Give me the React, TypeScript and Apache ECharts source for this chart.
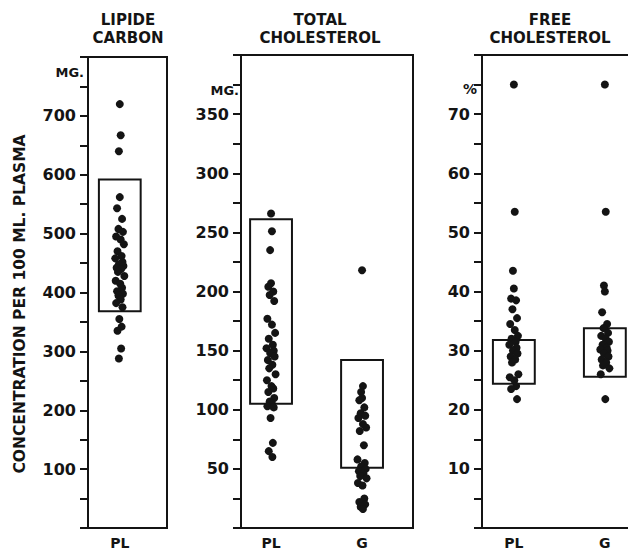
import React, { useEffect, useRef } from "react";
import * as echarts from "echarts";

// ---- data ----
const groupNames = ["PL", "G"];

const lipidePL = [720, 667, 640, 562, 543, 525, 508, 503, 495, 490, 482, 470, 462, 458, 452, 448, 445, 442, 440, 435, 428, 420, 415, 408, 402, 398, 395, 388, 382, 375, 355, 342, 335, 305, 288];
const totalPL = [266, 251, 235, 207, 204, 200, 197, 192, 177, 172, 165, 160, 155, 152, 150, 148, 145, 142, 138, 135, 130, 125, 120, 118, 115, 110, 107, 105, 103, 102, 93, 72, 65, 60];
const totalG = [218, 120, 115, 110, 108, 102, 97, 95, 93, 88, 85, 82, 70, 58, 55, 52, 50, 48, 46, 44, 42, 38, 36, 25, 22, 20, 18, 16];
const freePL = [75, 53.5, 43.5, 40.5, 38.8, 38.5, 37, 35.5, 34.5, 33.5, 32.5, 32, 31.5, 31, 30.5, 30, 29.5, 29, 28.5, 28, 26, 25.5, 25, 24, 23.5, 21.8];
const freeG = [75, 53.5, 41, 40, 36.5, 34.5, 33.8, 33, 32.5, 32, 31.5, 31, 30.5, 30.2, 30, 29.5, 29, 28.5, 28, 27.5, 27, 26, 21.8];

// horizontal scatter offsets of the dots (beeswarm spread)
const jitter = [0, 0.01, -0.01, 0, -0.03, 0.025, -0.015, 0.035, -0.04, 0.01, 0.045, -0.025, 0.02, -0.05, 0.03, -0.01, 0.04, -0.035, 0.015, -0.02, 0.05, -0.045, 0.005, 0.025, -0.03, 0.035, -0.015, 0.01, -0.04, 0.03, -0.005, 0.02, -0.025, 0.015, -0.01];

// ranges drawn as boxes: [group position, low, high]
const lipideBoxes = [[1, 368, 592]];
const totalBoxes = [[1, 105, 261], [2, 51, 142]];
const freeBoxes = [[1, 24.4, 31.8], [2, 25.6, 33.8]];

const titles = [["LIPIDE", "CARBON"], ["TOTAL", "CHOLESTEROL"], ["FREE", "CHOLESTEROL"]];
const unitLabels = ["MG.", "MG.", "%"];
const yAxisTitle = "CONCENTRATION PER 100 ML. PLASMA";

const INK = "#141414";
const FONT = "DejaVu Sans";

function points(values: number[], pos: number) {
  return values.map((v, i) => [pos + jitter[i % jitter.length], v]);
}

export default function App() {
  const ref = useRef<HTMLDivElement>(null);
  useEffect(() => {
    document.body.style.margin = "0";
    document.body.style.overflow = "hidden";
    if (!ref.current) return;
    const chart = echarts.init(ref.current, null, { renderer: "svg" });
    const HW = 0.23;
    const boxSeries = (idx: number, data: number[][]) => ({
      type: "custom",
      xAxisIndex: idx,
      yAxisIndex: idx,
      z: 2,
      silent: true,
      data,
      renderItem: (_p: any, api: any) => {
        const c = api.value(0);
        const lo = api.value(1);
        const hi = api.value(2);
        const a = api.coord([c - HW, hi]);
        const b = api.coord([c + HW, lo]);
        return {
          type: "rect",
          shape: { x: a[0], y: a[1], width: b[0] - a[0], height: b[1] - a[1] },
          style: { fill: "none", stroke: INK, lineWidth: 2 },
        };
      },
    });
    const dotSeries = (idx: number, data: number[][]) => ({
      type: "scatter",
      xAxisIndex: idx,
      yAxisIndex: idx,
      z: 3,
      symbolSize: 8,
      itemStyle: { color: INK, opacity: 1 },
      data,
    });
    const yAxis = (idx: number, max: number, interval: number, step: number) => ({
      type: "value",
      gridIndex: idx,
      min: 0,
      max,
      interval,
      axisLine: { show: true, lineStyle: { color: INK, width: 2 } },
      axisTick: { show: true, inside: false, length: 8, lineStyle: { color: INK, width: 2 } },
      splitLine: { show: false },
      axisLabel: {
        margin: 12,
        color: INK,
        fontFamily: FONT,
        fontWeight: "bold",
        fontSize: 16,
        formatter: (v: number) => (v > 0 && v < max && Math.abs(v % step) < 1e-6 ? String(v) : ""),
      },
    });
    const xAxis = (idx: number, min: number, max: number, vals: number[]) => ({
      type: "value",
      gridIndex: idx,
      min,
      max,
      axisLine: { show: false },
      axisTick: { show: false },
      splitLine: { show: false },
      axisLabel: {
        customValues: vals,
        margin: 8,
        color: INK,
        fontFamily: FONT,
        fontWeight: "bold",
        fontSize: 14,
        formatter: (v: number) => groupNames[Math.round(v) - 1] || "",
      },
    });
    const gridStyle = { show: true, borderColor: INK, borderWidth: 2, backgroundColor: "transparent" };
    const titleText = (cx: number, lines: string[]) =>
      lines.map((t, i) => ({
        type: "text",
        x: cx,
        y: 20 + i * 18,
        style: { text: t, fill: INK, font: `bold 15px "${FONT}"`, align: "center", verticalAlign: "middle" },
      }));
    chart.setOption({
      animation: false,
      backgroundColor: "#fff",
      grid: [
        { left: 88, top: 57, width: 79, height: 474, ...gridStyle },
        { left: 241, top: 55, width: 172, height: 475, ...gridStyle },
        { left: 482, top: 55, width: 177, height: 475, ...gridStyle },
      ],
      xAxis: [xAxis(0, 0.65, 1.52, [1]), xAxis(1, 0.67, 2.56, [1, 2]), xAxis(2, 0.65, 0.65 + 177 / 91, [1, 2])],
      yAxis: [yAxis(0, 800, 50, 100), yAxis(1, 400, 25, 50), yAxis(2, 80, 5, 10)],
      series: [
        boxSeries(0, lipideBoxes),
        dotSeries(0, points(lipidePL, 1)),
        boxSeries(1, totalBoxes),
        dotSeries(1, points(totalPL, 1)),
        dotSeries(1, points(totalG, 2)),
        boxSeries(2, freeBoxes),
        dotSeries(2, points(freePL, 1)),
        dotSeries(2, points(freeG, 2)),
      ],
      graphic: [
        ...titleText(128, titles[0]),
        ...titleText(320, titles[1]),
        ...titleText(550, titles[2]),
        { type: "text", x: 84, y: 72, style: { text: unitLabels[0], fill: INK, font: `bold 13px "${FONT}"`, align: "right", verticalAlign: "middle" } },
        { type: "text", x: 239, y: 90, style: { text: unitLabels[1], fill: INK, font: `bold 13px "${FONT}"`, align: "right", verticalAlign: "middle" } },
        { type: "text", x: 477, y: 89, style: { text: unitLabels[2], fill: INK, font: `bold 14px "${FONT}"`, align: "right", verticalAlign: "middle" } },
        {
          type: "text",
          x: 20,
          y: 304,
          rotation: Math.PI / 2,
          style: { text: yAxisTitle, fill: INK, font: `bold 15.5px "${FONT}"`, align: "center", verticalAlign: "middle" },
        },
      ],
    });
    return () => chart.dispose();
  }, []);
  return <div ref={ref} style={{ width: 670, height: 550 }} />;
}
